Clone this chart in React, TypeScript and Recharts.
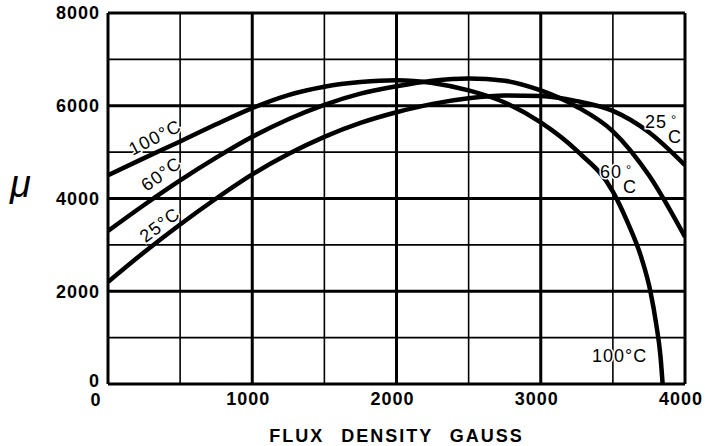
import React from 'react';
import { LineChart, Line, XAxis, YAxis, ReferenceLine, ReferenceDot, Label } from 'recharts';

// Flux density (gauss) sample points and permeability (mu) readings per temperature
const flux25 = [0, 250, 500, 750, 1000, 1250, 1500, 1750, 2000, 2250, 2500, 2750, 3000, 3250, 3500, 3750, 4000];
const mu25 = [2200, 2840, 3440, 4000, 4520, 4960, 5330, 5630, 5860, 6040, 6160, 6220, 6210, 6100, 5890, 5430, 4720];

const flux60 = [0, 250, 500, 750, 1000, 1250, 1500, 1750, 2000, 2250, 2500, 2750, 3000, 3250, 3500, 3750, 4000];
const mu60 = [3300, 3860, 4390, 4880, 5330, 5710, 6020, 6260, 6420, 6540, 6590, 6540, 6330, 5980, 5450, 4500, 3170];

const flux100 = [0, 250, 500, 750, 1000, 1250, 1500, 1750, 2000, 2250, 2500, 2750, 3000, 3250, 3500, 3600, 3700, 3760, 3800, 3830, 3845];
const mu100 = [4500, 4870, 5230, 5600, 5950, 6230, 6410, 6510, 6550, 6490, 6330, 6070, 5640, 5030, 4150, 3500, 2700, 2000, 1300, 600, 0];

const xTicks = [0, 1000, 2000, 3000, 4000];
const yTicks = [0, 2000, 4000, 6000, 8000];
const majorX = [1000, 2000, 3000];
const minorX = [500, 1500, 2500, 3500];
const majorY = [2000, 4000, 6000];
const minorY = [1000, 3000, 5000, 7000];

const xTitle = 'FLUX DENSITY GAUSS';
const yTitle = 'μ';

const toPoints = (xs: number[], ys: number[]) => xs.map((x, i) => ({ x, y: ys[i] }));
const data25 = toPoints(flux25, mu25);
const data60 = toPoints(flux60, mu60);
const data100 = toPoints(flux100, mu100);

const FONT = '"Liberation Sans", Arial, Helvetica, sans-serif';

const XTick = (props: any) => {
  const { x, y, payload } = props;
  const isZero = payload.value === 0;
  return (
    <text x={x + (isZero ? -12 : -4)} y={y + (isZero ? 1 : 0)} dy="0.71em" textAnchor="middle" fontFamily={FONT} fontWeight="bold" fontSize={18} letterSpacing={1} fill="#000">
      {payload.value}
    </text>
  );
};

const YTick = (props: any) => {
  const { x, y, payload } = props;
  const isZero = payload.value === 0;
  return (
    <text x={x} y={y - (isZero ? 3 : 0)} dy="0.355em" textAnchor="end" fontFamily={FONT} fontWeight="bold" fontSize={18} letterSpacing={1} fill="#000">
      {payload.value}
    </text>
  );
};

const center = (vb: any) => ({ cx: vb.x + (vb.width || 0) / 2, cy: vb.y + (vb.height || 0) / 2 });

const knockout = { stroke: '#fff', strokeWidth: 3, paintOrder: 'stroke' as any };

const rotatedLabel = (text: string, angle: number) => (p: any) => {
  const { cx, cy } = center(p.viewBox);
  return (
    <text
      x={cx}
      y={cy}
      textAnchor="middle"
      dominantBaseline="central"
      transform={`rotate(${angle}, ${cx}, ${cy})`}
      fontFamily={FONT}
      fontSize={18}
      letterSpacing={1.2}
      fill="#000"
      {...knockout}
    >
      {text}
    </text>
  );
};

const stackedLabel = (num: string) => (p: any) => {
  const { cx, cy } = center(p.viewBox);
  return (
    <g>
      <text x={cx} y={cy} fontFamily={FONT} fontSize={18} letterSpacing={1} fill="#000" {...knockout}>
        {num}
      </text>
      <text x={cx + 26} y={cy - 4} fontFamily={FONT} fontSize={13} fill="#000" {...knockout}>
        °
      </text>
      <text x={cx + 23} y={cy + 15} fontFamily={FONT} fontSize={18} fill="#000" {...knockout}>
        C
      </text>
    </g>
  );
};

const plainLabel = (text: string) => (p: any) => {
  const { cx, cy } = center(p.viewBox);
  return (
    <text x={cx} y={cy} fontFamily={FONT} fontSize={18} letterSpacing={1} fill="#000" {...knockout}>
      {text}
    </text>
  );
};

const XTitle = (p: any) => {
  const vb = p.viewBox;
  return (
    <text x={vb.x + vb.width / 2} y={vb.y + 58} textAnchor="middle" fontFamily={FONT} fontWeight="bold" fontSize={18} letterSpacing={2} wordSpacing={10} fill="#000">
      {xTitle}
    </text>
  );
};

const YTitle = (p: any) => {
  const vb = p.viewBox;
  return (
    <text x={vb.x + 10} y={vb.y + 184} fontFamily={FONT} fontStyle="italic" fontSize={38} fill="#000">
      {yTitle}
    </text>
  );
};

export default function App() {
  return (
    <div style={{ position: 'absolute', left: 0, top: 0, width: 705, height: 446, background: '#fff' }}>
      <LineChart width={705} height={446} margin={{ top: 13, right: 20, left: 0, bottom: 32 }}>
        <XAxis
          dataKey="x"
          type="number"
          domain={[0, 4000]}
          ticks={xTicks}
          allowDataOverflow
          height={30}
          tickLine={false}
          axisLine={{ stroke: '#000', strokeWidth: 3 }}
          tick={<XTick />}
        >
          <Label content={XTitle} />
        </XAxis>
        <YAxis
          type="number"
          domain={[0, 8000]}
          ticks={yTicks}
          allowDataOverflow
          width={108}
          tickLine={false}
          axisLine={{ stroke: '#000', strokeWidth: 3 }}
          tick={<YTick />}
        >
          <Label content={YTitle} />
        </YAxis>
        {minorX.map((v) => (
          <ReferenceLine key={`mx${v}`} x={v} stroke="#000" strokeWidth={1.6} />
        ))}
        {minorY.map((v) => (
          <ReferenceLine key={`my${v}`} y={v} stroke="#000" strokeWidth={1.6} />
        ))}
        {majorX.map((v) => (
          <ReferenceLine key={`Mx${v}`} x={v} stroke="#000" strokeWidth={3} />
        ))}
        {majorY.map((v) => (
          <ReferenceLine key={`My${v}`} y={v} stroke="#000" strokeWidth={3} />
        ))}
        <ReferenceLine x={4000} stroke="#000" strokeWidth={3} />
        <ReferenceLine y={8000} stroke="#000" strokeWidth={3} />
        <Line data={data25} dataKey="y" type="monotone" stroke="#000" strokeWidth={4.5} dot={false} isAnimationActive={false} />
        <Line data={data60} dataKey="y" type="monotone" stroke="#000" strokeWidth={4.5} dot={false} isAnimationActive={false} />
        <Line data={data100} dataKey="y" type="monotone" stroke="#000" strokeWidth={4.5} dot={false} isAnimationActive={false} />
        <ReferenceDot x={326} y={5315} r={0} fill="none" stroke="none" label={rotatedLabel('100°C', -27)} />
        <ReferenceDot x={371} y={4528} r={0} fill="none" stroke="none" label={rotatedLabel('60°C', -36)} />
        <ReferenceDot x={360} y={3428} r={0} fill="none" stroke="none" label={rotatedLabel('25°C', -37)} />
        <ReferenceDot x={3723} y={5520} r={0} fill="none" stroke="none" label={stackedLabel('25')} />
        <ReferenceDot x={3411} y={4442} r={0} fill="none" stroke="none" label={stackedLabel('60')} />
        <ReferenceDot x={3355} y={474} r={0} fill="none" stroke="none" label={plainLabel('100°C')} />
      </LineChart>
    </div>
  );
}
